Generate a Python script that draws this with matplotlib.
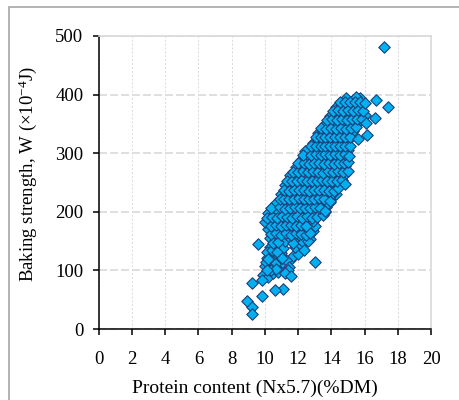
import matplotlib.pyplot as plt
from matplotlib.patches import Rectangle

# axis setup
x_ticks = [0, 2, 4, 6, 8, 10, 12, 14, 16, 18, 20]
y_ticks = [0, 100, 200, 300, 400, 500]
x_label = "Protein content (Nx5.7)(%DM)"
y_label = "Baking strength, W (×10$^{-4}$J)"

# main band of samples (protein %, W)
band = [
    (9.9, 92), (10.2, 88), (10.5, 95), (10.8, 97), (11.0, 104),
    (10.0, 108), (10.3, 112), (10.6, 106), (10.9, 114), (11.2, 110), (11.5, 118),
    (10.1, 122), (10.4, 127), (10.7, 120), (11.0, 130), (11.7, 125), (12.0, 128),
    (10.3, 140), (10.6, 136), (10.9, 143), (11.1, 138), (11.8, 140), (12.1, 145),
    (10.3, 155), (10.6, 152), (10.9, 158), (11.2, 150), (11.5, 156), (11.8, 152),
    (12.1, 158), (12.4, 155), (12.7, 153),
    (10.2, 170), (10.5, 166), (10.8, 172), (11.1, 168), (11.4, 174), (11.7, 165),
    (12.0, 171), (12.3, 167), (12.6, 173), (12.9, 168),
    (10.0, 182), (10.3, 186), (10.6, 180), (10.9, 188), (11.2, 183), (11.5, 189),
    (11.8, 181), (12.1, 187), (12.4, 184), (12.7, 178), (13.0, 176),
    (10.2, 198), (10.5, 194), (10.8, 202), (11.1, 196), (11.4, 204), (11.7, 198),
    (12.0, 205), (12.3, 195), (12.6, 201), (12.9, 197), (13.2, 203), (13.6, 199),
    (10.7, 215), (11.0, 210), (11.3, 218), (11.6, 212), (11.9, 219), (12.2, 211),
    (12.5, 217), (12.8, 213), (13.1, 219), (13.4, 212), (13.7, 209), (13.9, 216),
    (11.0, 230), (11.3, 226), (11.6, 233), (11.9, 228), (12.2, 235), (12.5, 227),
    (12.8, 232), (13.1, 225), (13.4, 234), (13.7, 229), (14.0, 224), (14.3, 231),
    (11.2, 245), (11.5, 241), (11.8, 248), (12.1, 243), (12.4, 250), (12.7, 242),
    (13.0, 247), (13.3, 240), (13.6, 249), (13.9, 244), (14.2, 241), (14.5, 250),
    (11.5, 262), (11.8, 257), (12.1, 264), (12.4, 258), (12.7, 265), (13.0, 256),
    (13.3, 262), (13.6, 258), (13.9, 265), (14.2, 257), (14.5, 263), (14.8, 265),
    (11.9, 276), (12.2, 272), (12.5, 279), (12.8, 273), (13.1, 280), (13.4, 271),
    (13.7, 277), (14.0, 273), (14.3, 279), (14.6, 271), (14.8, 278),
    (12.2, 288), (12.5, 292), (12.8, 286), (13.1, 294), (13.4, 289), (13.7, 295),
    (14.0, 287), (14.3, 293), (14.6, 286), (14.9, 292),
    (12.4, 304), (12.9, 300), (13.2, 307), (13.5, 302), (13.8, 309), (14.1, 301),
    (14.4, 306), (14.7, 300), (15.0, 305),
    (12.9, 318), (13.2, 322), (13.5, 316), (13.8, 324), (14.1, 319), (14.4, 325),
    (14.7, 317), (15.0, 322),
    (13.2, 334), (13.5, 338), (13.8, 331), (14.1, 339), (14.4, 333), (14.7, 340),
    (15.0, 335), (15.3, 338),
    (13.6, 350), (13.9, 346), (14.2, 353), (14.5, 348), (14.8, 355), (15.1, 349),
    (15.4, 352), (15.7, 356),
    (13.9, 364), (14.2, 368), (14.5, 361), (14.8, 369), (15.1, 363), (15.4, 367),
    (15.7, 362), (16.0, 366),
    (14.3, 378), (14.6, 382), (14.9, 376), (15.2, 384), (15.5, 379), (15.8, 383),
    (14.9, 394), (15.3, 391), (15.7, 395), (15.5, 396),
]

# samples lying between the rows above
band_between = [
    (10.05, 115), (10.35, 118), (10.65, 113), (10.95, 121), (11.25, 117),
    (11.45, 105), (10.15, 132), (10.45, 134), (10.75, 131), (11.05, 122),
    (11.4, 100), (11.2, 96), (10.4, 100), (10.7, 102),
    (10.5, 147), (10.8, 149), (11.7, 147), (12.3, 148), (12.6, 150),
    (10.4, 162), (10.7, 163), (11.0, 161), (11.3, 164), (11.6, 160), (11.9, 163),
    (12.2, 162), (12.5, 160), (12.7, 163),
    (10.4, 176), (10.7, 177), (11.0, 176), (11.3, 178), (11.6, 177), (11.9, 176),
    (12.2, 178), (12.5, 176), (12.9, 185),
    (10.1, 190), (10.45, 191), (10.75, 190), (11.05, 192), (11.35, 191),
    (11.65, 190), (11.95, 193), (12.25, 190), (12.55, 192), (12.85, 189),
    (13.15, 191), (13.5, 195),
    (10.4, 206), (10.9, 208), (11.2, 205), (11.5, 207), (11.8, 208), (12.1, 206),
    (12.4, 207), (12.7, 206), (13.0, 208), (13.3, 206), (13.6, 201), (13.8, 215),
    (10.9, 222), (11.15, 221), (11.45, 222), (11.75, 221), (12.05, 223),
    (12.35, 221), (12.65, 222), (12.95, 221), (13.25, 223), (13.55, 221),
    (13.9, 219), (14.1, 232),
    (11.15, 237), (11.45, 236), (11.75, 238), (12.05, 237), (12.35, 238),
    (12.65, 236), (12.95, 238), (13.25, 237), (13.55, 238), (13.85, 236),
    (14.15, 235), (14.4, 240),
    (11.35, 252), (11.65, 253), (11.95, 252), (12.25, 254), (12.55, 252),
    (12.85, 253), (13.15, 252), (13.45, 254), (13.75, 252), (14.05, 253),
    (14.35, 252), (14.65, 254), (14.8, 248),
    (11.7, 268), (12.0, 268), (12.3, 269), (12.6, 268), (12.9, 269), (13.2, 268),
    (13.5, 267), (13.8, 269), (14.1, 268), (14.4, 269), (14.7, 268), (15.0, 270),
    (12.0, 283), (12.35, 283), (12.65, 282), (12.95, 283), (13.25, 283),
    (13.55, 282), (13.85, 283), (14.15, 282), (14.45, 283), (14.75, 284),
    (15.0, 285),
    (12.3, 297), (12.75, 297), (13.05, 298), (13.35, 297), (13.65, 298),
    (13.95, 297), (14.25, 298), (14.55, 297), (14.85, 298), (15.05, 296),
    (12.75, 312), (13.05, 313), (13.35, 312), (13.65, 313), (13.95, 312),
    (14.25, 313), (14.55, 312), (14.85, 313), (15.1, 312),
    (13.05, 327), (13.35, 328), (13.65, 327), (13.95, 328), (14.25, 327),
    (14.55, 328), (14.85, 327), (15.15, 328),
    (13.4, 343), (13.7, 342), (14.0, 343), (14.3, 342), (14.6, 343), (14.9, 342),
    (15.2, 343), (15.5, 344),
    (13.75, 357), (14.05, 358), (14.35, 357), (14.65, 358), (14.95, 357),
    (15.25, 358), (15.55, 358), (15.85, 359),
    (14.1, 372), (14.4, 373), (14.7, 372), (15.0, 373), (15.3, 372), (15.6, 373),
    (15.9, 372),
    (14.5, 387), (14.8, 388), (15.1, 387), (15.4, 388), (15.7, 388), (16.0, 386),
]

# isolated samples around the band
outliers = [
    (17.2, 481), (17.4, 378), (16.7, 391), (16.6, 360), (16.15, 331), (16.07, 351),
    (15.6, 325), (13.0, 114), (11.6, 90), (11.1, 68), (10.6, 67), (9.8, 57),
    (9.24, 79), (8.9, 47), (9.24, 37), (9.24, 26), (9.6, 145), (12.35, 134),
    (10.2, 119), (9.85, 84), (10.1, 101),
]

samples = band + band_between + outliers
protein = [p[0] for p in samples]
strength = [p[1] for p in samples]

plt.rcParams['font.family'] = ['Liberation Serif', 'DejaVu Serif']
plt.rcParams['mathtext.fontset'] = 'custom'
plt.rcParams['mathtext.rm'] = 'Liberation Serif'
plt.rcParams['mathtext.it'] = 'Liberation Serif:italic'

fig = plt.figure(figsize=(4.59, 4.0), dpi=100)
ax = fig.add_axes([0.215, 0.1775, 0.724, 0.7325])

# outer grey frame (cut off on the right and bottom)
fig.patches.append(Rectangle((9 / 459, -0.1), 1.2, 1 - 7 / 400 + 0.1,
                             transform=fig.transFigure, fill=False,
                             edgecolor='#a6a6a6', linewidth=1.2))

ax.scatter(protein, strength, marker='D', s=34, color='#00b0f0',
           edgecolors='#1f3f78', linewidths=0.8, zorder=3)

ax.set_xlim(0, 20)
ax.set_ylim(0, 500)
ax.set_xticks(x_ticks)
ax.set_yticks(y_ticks)

ax.yaxis.grid(True, color='#d9d9d9', linewidth=1.2, linestyle=(0, (4.8, 1.8)), zorder=0)
ax.xaxis.grid(True, color='#d9d9d9', linewidth=0.7, linestyle=(0, (2, 2)), zorder=0)
ax.set_axisbelow(True)

for side in ['top', 'right']:
    ax.spines[side].set_color('#d9d9d9')
    ax.spines[side].set_linewidth(1.2)
for side in ['left', 'bottom']:
    ax.spines[side].set_color('black')
    ax.spines[side].set_linewidth(1.1)

ax.tick_params(direction='out', length=4, width=1.1, labelsize=13.5)
ax.tick_params(axis='y', pad=7)
ax.tick_params(axis='x', pad=12)
ax.set_xlabel(x_label, fontsize=14)
ax.set_ylabel(y_label, fontsize=13.5)
ax.xaxis.set_label_coords(0.47, -0.172)
ax.yaxis.set_label_coords(-0.18, 0.53)

fig.savefig('out.png', dpi=100)
